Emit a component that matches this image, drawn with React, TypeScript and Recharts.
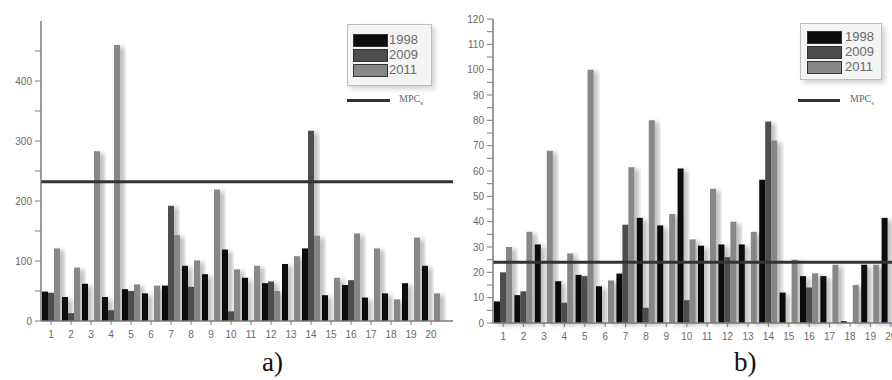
import React from 'react';
import { BarChart, Bar, XAxis, YAxis, ReferenceLine } from 'recharts';

const categories = ['1','2','3','4','5','6','7','8','9','10','11','12','13','14','15','16','17','18','19','20'];

// Panel a
const a1998 = [49, 40, 62, 40, 53, 46, 59, 92, 78, 119, 72, 63, 95, 121, 43, 60, 39, 46, 63, 92];
const a2009 = [47, 13, 0, 18, 50, 0, 192, 57, 0, 16, 0, 66, 0, 317, 0, 68, 0, 0, 0, 0];
const a2011 = [121, 89, 283, 460, 61, 59, 143, 101, 219, 86, 92, 50, 108, 142, 72, 146, 121, 36, 139, 46];
const aMPC = 232;
const aTicks = [0, 50, 100, 150, 200, 250, 300, 350, 400, 450];

// Panel b
const b1998 = [8.5, 11, 31, 16.5, 19, 14.5, 19.5, 41.5, 38.5, 61, 30.5, 31, 31, 56.5, 12, 18.5, 18.5, 0.7, 23, 41.5];
const b2009 = [20, 12.5, 0, 8, 18.5, 0, 38.8, 6, 0, 9, 0, 26, 0, 79.5, 0, 14, 0, 0, 0, 0];
const b2011 = [30, 36, 68, 27.5, 100, 16.8, 61.5, 80, 43, 33, 53, 40, 36, 72, 25, 19.6, 23, 15, 23, 36];
const bMPC = 24;
const bTicks = [0,5,10,15,20,25,30,35,40,45,50,55,60,65,70,75,80,85,90,95,100,105,110,115,120];

const seriesNames = ['1998', '2009', '2011'];
const seriesColors = ['#0d0d0d', '#4d4d4d', '#878787'];

const dataA = categories.map((c, i) => ({ cat: c, s1998: a1998[i], s2009: a2009[i], s2011: a2011[i] }));
const dataB = categories.map((c, i) => ({ cat: c, s1998: b1998[i], s2009: b2009[i], s2011: b2011[i] }));

const tickFont = '"Liberation Sans", Arial, sans-serif';

const makeYTick = (step: number) => (props: any) => {
  const { x, y, payload } = props;
  if (payload.value % step !== 0) return null;
  return (
    <text x={x} y={y} dy={3.5} textAnchor="end" fill="#6a6a6a" fontSize={10} fontFamily={tickFont}>
      {payload.value}
    </text>
  );
};

const XTick = (props: any) => {
  const { x, y, payload } = props;
  return (
    <text x={x} y={y} dy={9} textAnchor="middle" fill="#6a6a6a" fontSize={10} fontFamily={tickFont}>
      {payload.value}
    </text>
  );
};

type LegendOpts = { left: number; top: number; w: number; h: number; sw: number; swTops: number[]; textLeft: number; mpcTop: number; mpcLeft: number; mpcW: number; mpcText: number };

const LegendBox = ({ o }: { o: LegendOpts }) => (
  <div style={{ position: 'absolute', left: o.left, top: o.top, width: o.w + 60, height: o.mpcTop + 16 }}>
    <div style={{ position: 'absolute', left: 0, top: 0, width: o.w, height: o.h, border: '1px solid #bdbdbd', background: '#f4f4f4', boxShadow: '3px 3px 5px rgba(0,0,0,0.18)' }}>
      {seriesNames.map((n, i) => (
        <React.Fragment key={n}>
          <div style={{ position: 'absolute', left: o.sw, top: o.swTops[i], width: 33, height: 11, background: seriesColors[i], border: '1px solid #333' }} />
          <div style={{ position: 'absolute', left: o.textLeft, top: o.swTops[i] - 1, fontSize: 13, lineHeight: '14px', color: '#6a6a6a', fontFamily: tickFont }}>{n}</div>
        </React.Fragment>
      ))}
    </div>
    <div style={{ position: 'absolute', left: o.mpcLeft, top: o.mpcTop - 1, width: o.mpcW, height: 3, background: '#333' }} />
    <div style={{ position: 'absolute', left: o.mpcText, top: o.mpcTop - 7, fontSize: 10, lineHeight: '12px', color: '#666', fontFamily: '"Liberation Serif", serif', whiteSpace: 'nowrap' }}>
      MPC<sub style={{ fontSize: 7 }}>s</sub>
    </div>
  </div>
);

const ShadowDefs = ({ id }: { id: string }) => (
  <defs>
    <filter id={id} x="-50%" y="-10%" width="250%" height="130%">
      <feDropShadow dx="4" dy="2" stdDeviation="2.5" floodColor="#000" floodOpacity="0.3" />
    </filter>
  </defs>
);

const captionStyle: React.CSSProperties = {
  position: 'absolute', fontSize: 27, lineHeight: '27px', fontFamily: '"Liberation Serif", serif', color: '#111',
  whiteSpace: 'nowrap',
};

export default function App() {
  return (
    <div style={{ position: 'absolute', left: 0, top: 0, width: 892, height: 380, overflow: 'hidden', background: '#fff' }}>
      <div style={{ position: 'absolute', left: 0, top: 0 }}>
        <BarChart width={460} height={350} data={dataA} margin={{ top: 21, right: 7, left: 0, bottom: 9 }} barCategoryGap={1} barGap={0}>
          <ShadowDefs id="shA" />
          <XAxis dataKey="cat" interval={0} height={20} tickSize={4} tickMargin={4} tick={<XTick />} padding={{ left: 0, right: 12 }} axisLine={{ stroke: '#7a7a7a', strokeWidth: 1.5 }} tickLine={{ stroke: '#7a7a7a' }} />
          <YAxis width={41} domain={[0, 500]} ticks={aTicks} interval={0} tickSize={6} tickMargin={3} tick={makeYTick(100)} axisLine={{ stroke: '#7a7a7a', strokeWidth: 1.5 }} tickLine={{ stroke: '#7a7a7a' }} allowDataOverflow />
          {seriesNames.map((n, i) => (
            <Bar key={n} dataKey={'s' + n} name={n} fill={seriesColors[i]} filter="url(#shA)" isAnimationActive={false} />
          ))}
          <ReferenceLine y={aMPC} stroke="#333" strokeWidth={3} />
        </BarChart>
      </div>
      <div style={{ position: 'absolute', left: 440, top: 0 }}>
        <BarChart width={461} height={350} data={dataB} margin={{ top: 19, right: 0, left: 0, bottom: 7 }} barCategoryGap={1} barGap={0}>
          <ShadowDefs id="shB" />
          <XAxis dataKey="cat" interval={0} height={20} tickSize={4} tickMargin={4} tick={<XTick />} axisLine={{ stroke: '#7a7a7a', strokeWidth: 1.5 }} tickLine={{ stroke: '#7a7a7a' }} />
          <YAxis width={53} domain={[0, 120]} ticks={bTicks} interval={0} tickSize={6} tickMargin={3} tick={makeYTick(10)} axisLine={{ stroke: '#7a7a7a', strokeWidth: 1.5 }} tickLine={{ stroke: '#7a7a7a' }} />
          {seriesNames.map((n, i) => (
            <Bar key={n} dataKey={'s' + n} name={n} fill={seriesColors[i]} filter="url(#shB)" isAnimationActive={false} />
          ))}
          <ReferenceLine y={bMPC} stroke="#333" strokeWidth={3} />
        </BarChart>
      </div>
      <LegendBox o={{ left: 347, top: 24, w: 83, h: 60, sw: 5, swTops: [9, 24, 39], textLeft: 41, mpcTop: 76, mpcLeft: 0, mpcW: 43, mpcText: 52 }} />
      <LegendBox o={{ left: 800, top: 23, w: 80, h: 55, sw: 6, swTops: [7, 22, 37], textLeft: 44, mpcTop: 77, mpcLeft: -2, mpcW: 42, mpcText: 50 }} />
      <div style={{ ...captionStyle, left: 262, top: 349 }}>a)</div>
      <div style={{ ...captionStyle, left: 734, top: 349 }}>b)</div>
    </div>
  );
}
